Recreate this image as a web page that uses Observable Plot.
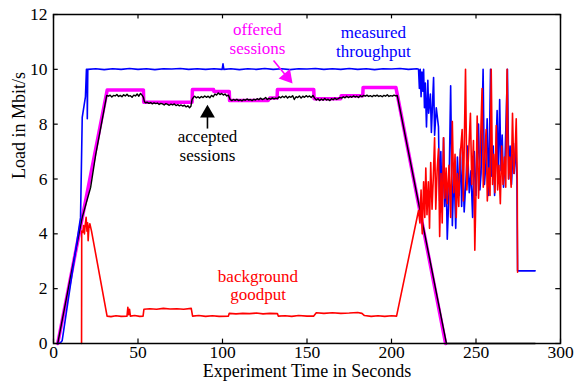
<!DOCTYPE html>
<html><head><meta charset="utf-8">
<script src="https://cdn.jsdelivr.net/npm/d3@7"></script>
<script src="https://cdn.jsdelivr.net/npm/@observablehq/plot@0.6"></script>
<style>body{margin:0;background:#fff} svg{display:block}</style>
</head><body><div id="chart"></div>
<script>
const xTicks = [0, 50, 100, 150, 200, 250, 300];
const yTicks = [0, 2, 4, 6, 8, 10, 12];
const xLabel = "Experiment Time in Seconds";
const yLabel = "Load in Mbit/s";

// offered sessions [time, Mbit/s]
const offered = [[2.5,0],[31.8,9.25],[53.2,9.25],[53.4,8.8],[82,8.8],[82.2,9.26],[94.7,9.26],[94.9,9.19],[104,9.19],[104.2,8.86],[127,8.86],[128,8.95],[132.3,8.95],[132.5,9.26],[154,9.26],[154.2,8.93],[170,8.93],[170.2,9.04],[183,9.04],[183.2,9.34],[202.6,9.34],[232,0]];

// accepted sessions
const accepted = [[2.5,0],[10,2.4],[17,4.6],[22,5.7],[25,6.9],[31.5,9.05],
[32.5,9.02],[33.5,9.06],[34.5,8.99],[35.5,9.05],[36.5,9.03],[37.5,9.08],[38.5,9.01],[39.5,9.05],[40.5,9.0],[41.5,9.07],[42.5,9.03],[43.5,9.09],[44.5,9.02],[45.5,9.04],[46.5,8.98],[47.5,9.06],[48.5,9.03],[49.5,9.1],[50.5,9.02],[51.5,9.12],[52.5,9.05],[53.2,8.98],
[53.8,8.82],[54.5,8.78],[55.5,8.8],[56.5,8.76],[57.5,8.79],[58.5,8.74],[59.5,8.78],[60.5,8.75],[61.5,8.77],[62.5,8.72],[63.5,8.76],[64.5,8.74],[65.5,8.7],[66.5,8.75],[67.5,8.72],[68.5,8.69],[69.5,8.73],[70.5,8.7],[71.5,8.74],[72.5,8.68],[73.5,8.71],[74.5,8.67],[75.5,8.7],[76.5,8.66],[77.5,8.69],[78.5,8.63],[79.5,8.67],[80.5,8.6],[81.3,8.65],
[82,8.9],[82.8,8.98],[83.5,9.02],[84.5,8.96],[85.5,9.0],[86.5,8.95],[87.5,9.01],[88.5,8.97],[89.5,9.03],[90.5,8.98],[91.5,9.02],[92.5,8.96],[93.5,9.05],[94.5,9.0],[95.5,9.1],[96.5,9.06],[97.5,9.14],[98.5,9.08],[99.5,9.12],[100.5,9.06],[101.5,9.1],[102.5,9.03],[103.5,9.06],
[104.5,8.9],[105.5,8.86],[106.5,8.9],[107.5,8.87],[108.5,8.91],[109.5,8.86],[110.5,8.89],[111.5,8.85],[112.5,8.9],[113.5,8.87],[114.5,8.92],[115.5,8.88],[116.5,8.9],[117.5,8.86],[118.5,8.91],[119.5,8.88],[120.5,8.93],[121.5,8.89],[122.5,8.95],[123.5,8.9],[124.5,8.92],[125.5,8.97],[126.5,8.9],[127.5,8.94],[128.5,8.91],[129.5,8.96],[130.5,8.92],[131.5,8.95],[132.5,8.93],
[133.5,9.0],[134.5,8.96],[135.5,9.02],[136.5,8.97],[137.5,9.03],[138.5,8.95],[139.5,9.01],[140.5,8.98],[141.5,9.04],[142.5,8.9],[143.5,9.0],[144.5,8.97],[145.5,9.03],[146.5,8.95],[147.5,9.02],[148.5,8.98],[149.5,9.04],[150.5,8.99],[151.5,9.03],[152.5,8.97],[153.5,9.05],
[154.5,8.95],[155.5,8.88],[156.5,8.93],[157.5,8.86],[158.5,8.92],[159.5,8.87],[160.5,8.94],[161.5,8.88],[162.5,8.91],[163.5,8.86],[164.5,8.93],[165.5,8.89],[166.5,8.95],[167.5,8.9],[168.5,8.93],[169.5,8.97],
[170.5,8.95],[171.5,9.0],[172.5,8.96],[173.5,9.02],[174.5,8.97],[175.5,9.01],[176.5,8.98],[177.5,9.03],[178.5,8.99],[179.5,9.02],[180.5,8.97],[181.5,9.04],[182.5,9.0],[183.5,9.05],[184.5,9.02],[185.5,9.06],[186.5,9.01],[187.5,9.04],[188.5,9.0],[189.5,9.05],[190.5,9.02],[191.5,9.06],[192.5,9.01],[193.5,9.04],[194.5,9.0],[195.5,9.05],[196.5,9.02],[197.5,9.07],[198.5,9.01],[199.5,9.04],[200.5,9.02],[201.5,9.06],[202.5,9.03],[203.4,9.05],
[232.5,0],[285,0]];

// measured throughput
const measured = [[2.4,0],[4,0.02],[5.1,0.1],[16,4.6],[17,8.25],[18.9,9.0],[19.5,10.0],[19.9,10.0],[20,8.2],[20.3,10.0],
[25,10.02],[30,9.99],[35,10.02],[40,10.0],[45,10.03],[50,10.0],[55,10.02],[60,9.99],[65,10.02],[70,10.01],[75,10.03],[80,10.0],[85,10.02],[90,10.0],[95,10.02],[99.8,10.0],[100.3,10.2],[100.8,10.0],
[105,10.02],[110,9.99],[115,10.02],[120,10.0],[125,10.03],[130,10.0],[135,10.02],[140,9.99],[145,10.02],[150,10.01],[155,10.03],[160,10.0],[165,10.02],[170,10.0],[175,10.03],[180,10.0],[185,10.02],[190,9.99],[195,10.02],[200,10.01],[205,10.03],[210,10.0],[215,10.02],
[216,10.0],[216.5,9.3],[217,10.0],[217.5,9.0],[218,9.9],[218.5,9.2],[219,10.0],[219.5,8.6],[220,9.5],[220.7,7.9],[221.5,9.6],[222,8.4],[223,9.1],[223.6,7.7],[224.9,9.7],[225.5,7.6],[226.5,8.6],[227.8,7.9],[228.5,5.2],[229.2,7.0],[230,4.8],[230.8,7.5],[231.5,5.0],[232.3,6.2],[233,3.8],[234,5.5],[235,9.4],[236,4.3],[237,6.4],[238,4.2],[239,6.8],[240,5.4],[240.8,7.1],[241.5,5.0],[242.3,6.6],[243,4.8],[244,5.9],[245,7.2],[246,5.5],[247,6.3],[248,4.6],[249,7.0],[250,5.4],[251.5,8.0],[252.3,5.6],[253,6.2],[254.2,10.0],[255,5.8],[255.8,6.5],[256.6,8.2],[257.5,5.4],[258.6,10.0],[259.3,6.1],[260.2,7.2],[261,5.4],[262.5,8.5],[263.2,5.9],[264,8.9],[264.8,6.3],[265.5,7.6],[266.3,5.7],[267.2,6.8],[268.6,10.0],[269.4,6.0],[270.2,7.2],[271,5.8],[271.8,6.9],[272.6,6.2],[273.4,7.3],[274.2,6.0],[274.6,2.65],[285,2.65]];

// background goodput
const background = [[16.6,0],[16.7,4.1],[17.3,4.05],[17.8,4.3],[18.3,4.0],[18.8,4.35],[19.3,4.6],[19.8,4.1],[20.2,4.4],[20.5,3.75],[20.9,4.2],[21.5,4.37],[22.5,4.1],[31.7,1.0],
[34,0.98],[37,1.01],[40,0.99],[43.5,1.0],[44,1.32],[44.5,1.05],[45,1.25],[45.5,1.0],[48,1.02],[51,0.99],[53,1.0],[53.5,1.25],[57,1.27],[61,1.25],[65,1.28],[69,1.26],[73,1.27],[77,1.25],[81.5,1.28],[82.3,1.0],[86,1.02],[90,0.99],[94,1.01],[98,0.99],[103.5,1.0],[104,1.1],[108,1.08],[112,1.1],[116,1.09],[120,1.11],[124,1.08],[128,1.1],[132.5,1.09],[133,1.0],[137,1.01],[141,0.99],[145,1.02],[150,1.0],[154,1.0],[155.5,1.12],[160,1.1],[165,1.12],[170,1.1],[175,1.11],[180,1.13],[182.5,1.1],[184,1.02],[188,0.99],[192,1.01],[196,0.99],[200,1.01],[203,1.0],
[216,4.85],[216.8,4.4],[217.5,5.6],[218.2,4.0],[219,5.9],[219.7,4.6],[220.3,6.4],[221,4.7],[221.8,5.9],[222.5,4.2],[223.2,6.6],[224,4.9],[224.7,6.0],[225.5,7.5],[226.2,4.9],[227,6.3],[227.8,7.1],[228.5,3.9],[229.3,6.2],[230,4.4],[230.8,7.5],[231.5,5.3],[232.3,6.4],[233,5.1],[234,6.5],[235,4.6],[236,8.1],[236.8,5.5],[237.6,6.9],[238.3,4.6],[239,6.2],[239.8,5.0],[240.6,6.8],[241.8,7.8],[242.5,5.2],[243.8,10.0],[244.6,5.6],[245.4,6.6],[246.7,8.4],[247.5,5.8],[248.5,7.4],[249.3,3.4],[250,5.6],[250.7,8.3],[251.5,5.3],[252.3,6.6],[253.6,9.3],[254.3,5.7],[255.1,6.8],[256,7.8],[256.7,5.2],[257.5,6.4],[258.3,5.4],[259,10.0],[259.8,5.8],[260.5,6.9],[261.2,5.5],[262,7.95],[262.8,5.6],[263.6,6.5],[264.4,5.1],[265.2,7.2],[266,5.8],[266.8,6.8],[267.6,5.7],[268.4,10.0],[269.2,6.0],[270,6.8],[270.8,5.7],[271.6,8.4],[272.4,6.2],[273.1,6.9],[273.8,8.2],[274.4,6.0],[274.6,2.6]];

const rows = a => a.map(([t, v]) => ({t, v}));
const MAG = "#ff00ff", BLUE = "#0000ff", RED = "#ff0000";
const serif = "Liberation Serif, Times New Roman, serif";

const chart = Plot.plot({
  width: 575, height: 385,
  marginLeft: 53, marginRight: 15, marginTop: 14, marginBottom: 42,
  style: {fontFamily: serif, fontSize: "18px", background: "white", color: "black"},
  x: {domain: [0, 300]},
  y: {domain: [0, 12]},
  marks: [
    Plot.axisX({ticks: xTicks, tickSize: 0, tickPadding: 2, label: null, fontSize: 17.5}),
    Plot.axisY({ticks: yTicks, tickSize: 0, tickPadding: 6, label: null, fontSize: 17.5}),
    Plot.text([xLabel], {text: d => d, frameAnchor: "bottom", dy: 33, fontSize: 18}),
    Plot.text([yLabel], {text: d => d, frameAnchor: "left", dx: -34, rotate: -90, fontSize: 18}),
    // inner ticks on all sides
    Plot.ruleX(xTicks, {x: d => d, y1: 0, y2: 0.16, strokeWidth: 1.2}),
    Plot.ruleX(xTicks, {x: d => d, y1: 12, y2: 11.84, strokeWidth: 1.2}),
    Plot.ruleY(yTicks, {y: d => d, x1: 0, x2: 2.8, strokeWidth: 1.2}),
    Plot.ruleY(yTicks, {y: d => d, x1: 300, x2: 297.2, strokeWidth: 1.2}),
    // series
    Plot.line(rows(offered), {x: "t", y: "v", stroke: MAG, strokeWidth: 3.5}),
    Plot.line(rows(accepted), {x: "t", y: "v", stroke: "black", strokeWidth: 1.4}),
    Plot.line(rows(measured), {x: "t", y: "v", stroke: BLUE, strokeWidth: 1.6}),
    Plot.line(rows(background), {x: "t", y: "v", stroke: RED, strokeWidth: 1.6}),
    // annotations
    Plot.text(["offered\nsessions"], {text: d => d, x: 120.7, y: 11.12, fill: MAG, fontSize: 17, lineHeight: 1.08}),
    Plot.text(["measured\nthroughput"], {text: d => d, x: 189.3, y: 11.01, fill: BLUE, fontSize: 17, lineHeight: 1.08}),
    Plot.text(["accepted\nsessions"], {text: d => d, x: 91.1, y: 7.22, fill: "black", fontSize: 17, lineHeight: 1.08}),
    Plot.text(["background\ngoodput"], {text: d => d, x: 121, y: 2.12, fill: RED, fontSize: 17, lineHeight: 1.08}),
    // arrows
    Plot.link([0], {x1: 130.2, y1: 10.32, x2: 138.2, y2: 9.72, stroke: MAG, strokeWidth: 1.6}),
    Plot.dot([0], {x: 138.2, y: 9.72, symbol: "triangle", r: 5.5, fill: MAG, stroke: "none", rotate: 140}),
    Plot.link([0], {x1: 91.1, y1: 7.84, x2: 91.1, y2: 8.3, stroke: "black", strokeWidth: 1.6}),
    Plot.dot([0], {x: 91.1, y: 8.4, symbol: "triangle", r: 5.5, fill: "black", stroke: "none"}),
    Plot.frame({stroke: "black", strokeWidth: 1.5})
  ]
});
document.getElementById("chart").appendChild(chart);
</script>
</body></html>
